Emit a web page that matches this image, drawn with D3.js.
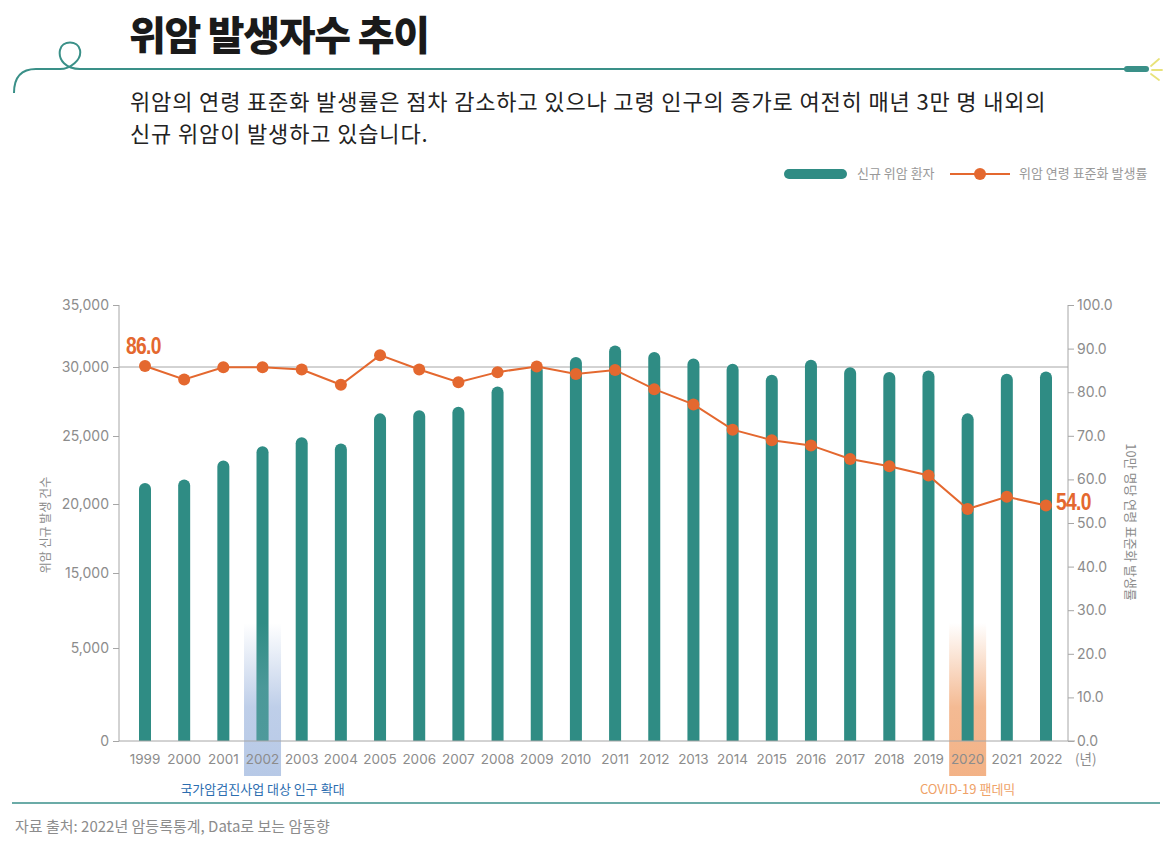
<!DOCTYPE html>
<html>
<head>
<meta charset="utf-8">
<script src="https://cdn.jsdelivr.net/npm/d3@7"></script>
<style>
  body { margin: 0; background: #fff; }
  svg { display: block; font-family: "Noto Sans CJK KR", "Noto Sans", sans-serif; }
</style>
</head>
<body>
<div id="chart"></div>
<script>
  // data
  var years = ["1999","2000","2001","2002","2003","2004","2005","2006","2007","2008","2009","2010",
               "2011","2012","2013","2014","2015","2016","2017","2018","2019","2020","2021","2022"];
  var newCases = [21540, 21800, 23200, 24240, 24900, 24450, 26640, 26860, 27120, 28590, 30200, 30800,
                  31740, 31210, 30690, 30270, 29440, 30590, 29980, 29640, 29750, 26640, 29510, 29680];
  var ageStdRate = [86.0, 82.9, 85.7, 85.7, 85.2, 81.7, 88.5, 85.2, 82.3, 84.6, 85.9, 84.2,
                    85.1, 80.7, 77.2, 71.4, 69.0, 67.8, 64.7, 63.0, 60.9, 53.2, 56.0, 54.0];
  // the left axis in the picture is broken, so its ticks are not evenly spaced
  var leftTicks = [0, 5000, 15000, 20000, 25000, 30000, 35000];
  var rightTicks = [0, 10, 20, 30, 40, 50, 60, 70, 80, 90, 100];
  var highlights = [
    {year: "2002", label: "국가암검진사업 대상 인구 확대", color: "#b3c6e5", text: "#2b6db0"},
    {year: "2020", label: "COVID-19 팬데믹", color: "#f2ae80", text: "#efa267"}
  ];

  var teal = "#2f8c84", orange = "#e4682f", grey = "#8c8c8c";
  var W = 1175, H = 843;

  var svg = d3.select("#chart").append("svg")
      .attr("width", W)
      .attr("height", H);

  // ---- header ----
  svg.append("text")
      .attr("x", 129).attr("y", 50)
      .attr("font-size", 40).attr("font-weight", 900)
      .attr("letter-spacing", -1.3)
      .attr("fill", "#1a1a1a")
      .text("위암 발생자수 추이");

  // decorative line with a loop
  svg.append("path")
      .attr("d", "M14,93 C14,78 20,69 36,69 L60,69 C70,69 82,60 80,50 C78,40 62,40 60,50 C58,60 66,69 80,69 L1126,69")
      .attr("fill", "none").attr("stroke", "#3a9088").attr("stroke-width", 2);
  svg.append("line")
      .attr("x1", 1127).attr("x2", 1146).attr("y1", 69).attr("y2", 69)
      .attr("stroke", "#3a9088").attr("stroke-width", 6).attr("stroke-linecap", "round");
  var spark = svg.append("g").attr("stroke", "#e8e27a").attr("stroke-width", 1.8).attr("stroke-linecap", "round");
  spark.append("line").attr("x1", 1151).attr("y1", 66).attr("x2", 1159).attr("y2", 59);
  spark.append("line").attr("x1", 1152).attr("y1", 70).attr("x2", 1162).attr("y2", 70);
  spark.append("line").attr("x1", 1151).attr("y1", 74).attr("x2", 1159).attr("y2", 80);

  var sub = svg.append("text")
      .attr("font-size", 22).attr("fill", "#222").attr("letter-spacing", 0.85);
  sub.append("tspan").attr("x", 130).attr("y", 110)
      .text("위암의 연령 표준화 발생률은 점차 감소하고 있으나 고령 인구의 증가로 여전히 매년 3만 명 내외의");
  sub.append("tspan").attr("x", 130).attr("y", 142)
      .text("신규 위암이 발생하고 있습니다.");

  // ---- legend ----
  var lg = svg.append("g").attr("font-size", 13).attr("fill", "#999");
  lg.append("line").attr("x1", 789).attr("x2", 842).attr("y1", 174).attr("y2", 174)
      .attr("stroke", teal).attr("stroke-width", 10).attr("stroke-linecap", "round");
  lg.append("text").attr("x", 857).attr("y", 178).text("신규 위암 환자");
  lg.append("line").attr("x1", 950).attr("x2", 1010).attr("y1", 174).attr("y2", 174)
      .attr("stroke", orange).attr("stroke-width", 2);
  lg.append("circle").attr("cx", 980).attr("cy", 174).attr("r", 6).attr("fill", orange);
  lg.append("text").attr("x", 1019).attr("y", 178).text("위암 연령 표준화 발생률");

  // ---- scales ----
  var x = d3.scalePoint().domain(years).range([145, 1046]);
  var yL = d3.scaleLinear().domain(leftTicks).range([741, 648, 573, 504, 436, 367, 305]);
  var yR = d3.scaleLinear().domain([0, 100]).range([741, 305]);
  var left = 119, right = 1068;

  // single reference gridline at 30,000
  svg.append("line")
      .attr("x1", left).attr("x2", right)
      .attr("y1", yL(30000)).attr("y2", yL(30000))
      .attr("stroke", "#a6a6a6").attr("stroke-width", 1);

  // ---- highlight bands (behind the bars) ----
  var defs = svg.append("defs");
  highlights.forEach(function(h, k) {
    var g = defs.append("linearGradient").attr("id", "hl" + k)
        .attr("x1", 0).attr("x2", 0).attr("y1", 0).attr("y2", 1);
    g.append("stop").attr("offset", "0%").attr("stop-color", h.color).attr("stop-opacity", 0);
    g.append("stop").attr("offset", "55%").attr("stop-color", h.color).attr("stop-opacity", 0.85);
    g.append("stop").attr("offset", "100%").attr("stop-color", h.color).attr("stop-opacity", 0.95);
    svg.append("rect")
        .attr("x", x(h.year) - 18.5).attr("width", 37)
        .attr("y", 623).attr("height", 153)
        .attr("fill", "url(#hl" + k + ")");
    svg.append("text")
        .attr("x", x(h.year)).attr("y", 794)
        .attr("text-anchor", "middle").attr("font-size", 13)
        .attr("fill", h.text)
        .text(h.label);
  });

  // ---- bars (rounded tops) ----
  var bw = 12;
  svg.append("g").selectAll("path")
      .data(newCases)
      .join("path")
      .attr("fill", teal)
      .attr("d", function(d, i) {
        var cx = x(years[i]), top = yL(d), r = bw / 2, base = yL(0);
        return "M" + (cx - r) + "," + base + "V" + (top + r) +
               "A" + r + "," + r + " 0 0 1 " + (cx + r) + "," + (top + r) +
               "V" + base + "Z";
      });
  // faint tint of the band over the 2002 bar, as in the picture
  svg.append("rect")
      .attr("x", x("2002") - bw / 2).attr("width", bw)
      .attr("y", 623).attr("height", 118)
      .attr("fill", "url(#hl0)").attr("opacity", 0.25);

  // ---- axes ----
  var axL = svg.append("g")
      .attr("transform", "translate(" + left + ",0)")
      .call(d3.axisLeft(yL).tickValues(leftTicks).tickSize(6).tickPadding(4).tickFormat(d3.format(",")));
  var axR = svg.append("g")
      .attr("transform", "translate(" + right + ",0)")
      .call(d3.axisRight(yR).tickValues(rightTicks).tickSize(6).tickPadding(3).tickFormat(d3.format(".1f")));
  [axL, axR].forEach(function(a) {
    a.select(".domain").attr("stroke", "#a6a6a6").attr("d", "M0,305V741");
    a.selectAll(".tick line").attr("stroke", "#a6a6a6");
    a.selectAll(".tick text").attr("fill", grey).attr("font-size", 14)
        .attr("font-family", "Inter, 'Noto Sans', sans-serif");
  });

  // baseline
  svg.append("line")
      .attr("x1", left).attr("x2", right + 7)
      .attr("y1", 741).attr("y2", 741)
      .attr("stroke", "#a6a6a6");

  // year labels
  svg.append("g").selectAll("text")
      .data(years)
      .join("text")
      .attr("x", function(d) { return x(d); })
      .attr("y", 764)
      .attr("text-anchor", "middle")
      .attr("font-size", 13.5)
      .attr("font-family", "Inter, 'Noto Sans', sans-serif")
      .attr("fill", grey)
      .text(function(d) { return d; });
  svg.append("text").attr("x", 1075).attr("y", 764)
      .attr("font-size", 13.5).attr("fill", grey).text("(년)");

  // axis titles
  svg.append("text")
      .attr("transform", "translate(50,525) rotate(-90)")
      .attr("text-anchor", "middle").attr("font-size", 12).attr("fill", grey)
      .text("위암 신규 발생 건수");
  svg.append("text")
      .attr("transform", "translate(1126,522) rotate(90)")
      .attr("text-anchor", "middle").attr("font-size", 13).attr("fill", grey)
      .text("10만 명당 연령 표준화 발생률");

  // ---- rate line ----
  var line = d3.line()
      .x(function(d, i) { return x(years[i]); })
      .y(function(d) { return yR(d); });
  svg.append("path")
      .datum(ageStdRate)
      .attr("d", line)
      .attr("fill", "none").attr("stroke", orange).attr("stroke-width", 2);
  svg.append("g").selectAll("circle")
      .data(ageStdRate)
      .join("circle")
      .attr("cx", function(d, i) { return x(years[i]); })
      .attr("cy", function(d) { return yR(d); })
      .attr("r", 6)
      .attr("fill", orange);

  // first / last value labels, squeezed to look like a condensed face
  function valueLabel(i, dx, dy) {
    var lx = x(years[i]) + dx, ly = yR(ageStdRate[i]) + dy;
    svg.append("text")
        .attr("transform", "translate(" + lx + "," + ly + ") scale(0.84,1)")
        .attr("font-family", "'Liberation Sans', Arial, sans-serif")
        .attr("font-weight", 700).attr("font-size", 23).attr("letter-spacing", -0.8)
        .attr("fill", orange)
        .text(ageStdRate[i].toFixed(1));
  }
  valueLabel(0, -19, -12);
  valueLabel(ageStdRate.length - 1, 10, 4);

  // ---- footer ----
  svg.append("line")
      .attr("x1", 12).attr("x2", 1160).attr("y1", 803).attr("y2", 803)
      .attr("stroke", "#3a8f8a").attr("stroke-width", 1.5);
  svg.append("text")
      .attr("x", 15).attr("y", 832)
      .attr("font-size", 15).attr("fill", grey)
      .text("자료 출처: 2022년 암등록통계, Data로 보는 암동향");
</script>
</body>
</html>
